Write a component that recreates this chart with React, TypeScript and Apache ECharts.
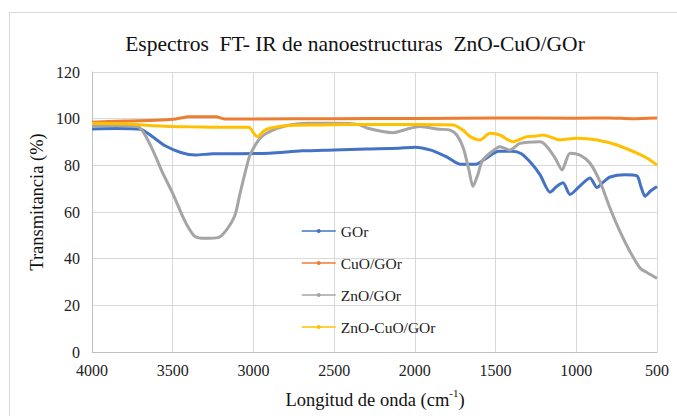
import React, { useEffect, useRef } from "react";
import * as echarts from "echarts";

const seriesNames = ["GOr", "CuO/GOr", "ZnO/GOr", "ZnO-CuO/GOr"];
const seriesColors = ["#4472C4", "#ED7D31", "#A5A5A5", "#FFC000"];

const xTicks = [4000, 3500, 3000, 2500, 2000, 1500, 1000, 500];
const yTicks = [0, 20, 40, 60, 80, 100, 120];

const gorData: [number, number][] = [
  [4000, 95.6], [3850, 95.8], [3700, 95.5], [3620, 92], [3550, 88.5], [3450, 85.5],
  [3360, 84.4], [3250, 85], [3100, 85], [2900, 85.2], [2700, 86.2], [2500, 86.6],
  [2300, 87], [2100, 87.3], [2000, 87.8], [1900, 86.5], [1800, 83.5], [1720, 80.5],
  [1620, 80.5], [1560, 83], [1480, 86], [1400, 86], [1340, 85], [1280, 81],
  [1225, 76], [1163, 68.5], [1120, 71], [1082, 72.5], [1039, 67.5], [980, 71],
  [915, 74.6], [872, 70.5], [830, 73], [791, 75], [700, 76], [624, 75.5],
  [600, 71], [574, 66.8], [540, 69], [500, 70.9],
];

const cuoData: [number, number][] = [
  [4000, 98.5], [3800, 99], [3600, 99.3], [3480, 99.9], [3400, 100.8], [3230, 100.8],
  [3180, 99.9], [3000, 99.9], [2500, 100], [2000, 100.1], [1500, 100.3], [1000, 100.2],
  [800, 100.3], [650, 100], [500, 100.3],
];

const znoData: [number, number][] = [
  [4000, 97], [3850, 97], [3720, 96.8], [3680, 94], [3620, 86], [3566, 77.3],
  [3500, 68], [3442, 58.7], [3400, 53], [3362, 49.5], [3300, 48.7], [3220, 49],
  [3170, 52], [3114, 58.7], [3083, 68], [3040, 80], [3021, 84.4], [2959, 91.6],
  [2880, 95.1], [2773, 97.3], [2668, 98], [2500, 98], [2350, 97.5], [2297, 96],
  [2200, 94.5], [2135, 94], [2050, 95.5], [1968, 96.6], [1850, 95.5], [1782, 95.1],
  [1740, 93], [1700, 87.4], [1665, 78], [1640, 70.9], [1610, 76], [1584, 81.6],
  [1530, 85.5], [1473, 88], [1411, 86.6], [1349, 89.4], [1225, 90.1], [1181, 88],
  [1130, 83], [1088, 78], [1039, 85.2], [977, 84.4], [915, 80.9], [853, 73],
  [791, 61.6], [729, 51.6], [667, 43], [604, 35.9], [560, 34], [500, 31.6],
];

const znoCuoData: [number, number][] = [
  [4000, 98], [3800, 97.8], [3628, 97], [3400, 96.5], [3100, 96.3], [3030, 96.3],
  [2990, 93], [2972, 92.3], [2940, 94.5], [2900, 95.9], [2800, 97], [2600, 97.3],
  [2400, 97.5], [2000, 97.5], [1762, 97.3], [1700, 95], [1658, 92.3], [1596, 90.9],
  [1535, 93.7], [1473, 93], [1392, 90.1], [1306, 92.3], [1250, 92.5], [1206, 93],
  [1101, 90.9], [996, 91.6], [872, 90.9], [748, 88.7], [624, 85.2], [560, 83],
  [500, 80.1],
];

const allData = [gorData, cuoData, znoData, znoCuoData];

const SERIF = "Liberation Serif";

export default function App() {
  const ref = useRef<HTMLDivElement>(null);
  useEffect(() => {
    if (!ref.current) return;
    const chart = echarts.init(ref.current, undefined, { renderer: "svg" });
    chart.setOption({
      animation: false,
      backgroundColor: "#ffffff",
      textStyle: { fontFamily: SERIF },
      grid: { left: 92, right: 20, top: 72, bottom: 64 },
      xAxis: {
        type: "value",
        inverse: true,
        min: xTicks[xTicks.length - 1],
        max: xTicks[0],
        interval: 500,
        axisLine: { show: true, lineStyle: { color: "#BFBFBF", width: 1 } },
        axisTick: { show: false },
        splitLine: { show: true, lineStyle: { color: "#D9D9D9", width: 1 } },
        axisLabel: {
          fontFamily: SERIF,
          fontSize: 16,
          color: "#222",
          margin: 10,
          formatter: (v: number) => String(v),
        },
      },
      yAxis: {
        type: "value",
        min: yTicks[0],
        max: yTicks[yTicks.length - 1],
        interval: 20,
        axisLine: { show: true, lineStyle: { color: "#BFBFBF", width: 1 } },
        axisTick: { show: false },
        splitLine: { show: true, lineStyle: { color: "#D9D9D9", width: 1 } },
        axisLabel: { fontFamily: SERIF, fontSize: 16, color: "#222", margin: 12 },
      },
      legend: {
        orient: "vertical",
        left: 296,
        top: 218,
        itemWidth: 34,
        itemHeight: 5,
        itemGap: 16,
        lineStyle: { width: 1.5 },
        textStyle: { fontFamily: SERIF, fontSize: 15.5, color: "#222", lineHeight: 16 },
        data: seriesNames,
      },
      graphic: [
        {
          type: "rect",
          shape: { x: 9.5, y: 12.5, width: 700, height: 420 },
          style: { fill: "none", stroke: "#D9D9D9", lineWidth: 1 },
          silent: true,
        },
        {
          type: "text",
          x: 355,
          y: 44,
          style: {
            text: "Espectros  FT- IR de nanoestructuras  ZnO-CuO/GOr",
            fontFamily: SERIF,
            fontSize: 21.5,
            fill: "#111",
            textAlign: "center",
            textVerticalAlign: "middle",
          },
        },
        {
          type: "text",
          x: 37,
          y: 202,
          rotation: Math.PI / 2,
          style: {
            text: "Transmitancia (%)",
            fontFamily: SERIF,
            fontSize: 18.5,
            fill: "#111",
            textAlign: "center",
            textVerticalAlign: "middle",
          },
        },
        {
          type: "text",
          x: 375,
          y: 398,
          style: {
            text: "{a|Longitud de onda (cm}{s|-1}{a|)}",
            fontFamily: SERIF,
            fontSize: 18.5,
            fill: "#111",
            textAlign: "center",
            textVerticalAlign: "middle",
            rich: {
              a: { fontFamily: SERIF, fontSize: 18.5, fill: "#111", lineHeight: 22, verticalAlign: "bottom" },
              s: { fontFamily: SERIF, fontSize: 11, fill: "#111", lineHeight: 22, verticalAlign: "top" },
            },
          },
        },
      ],
      series: seriesNames.map((name, i) => ({
        name,
        type: "line",
        data: allData[i],
        showSymbol: false,
        symbol: "circle",
        symbolSize: 4,
        smooth: 0.25,
        color: seriesColors[i],
        lineStyle: { width: 3, color: seriesColors[i] },
        itemStyle: { color: seriesColors[i] },
        z: 2 + i,
      })),
    });
    return () => chart.dispose();
  }, []);
  return (
    <div
      ref={ref}
      style={{ position: "absolute", left: 0, top: 0, width: 677, height: 416 }}
    />
  );
}
